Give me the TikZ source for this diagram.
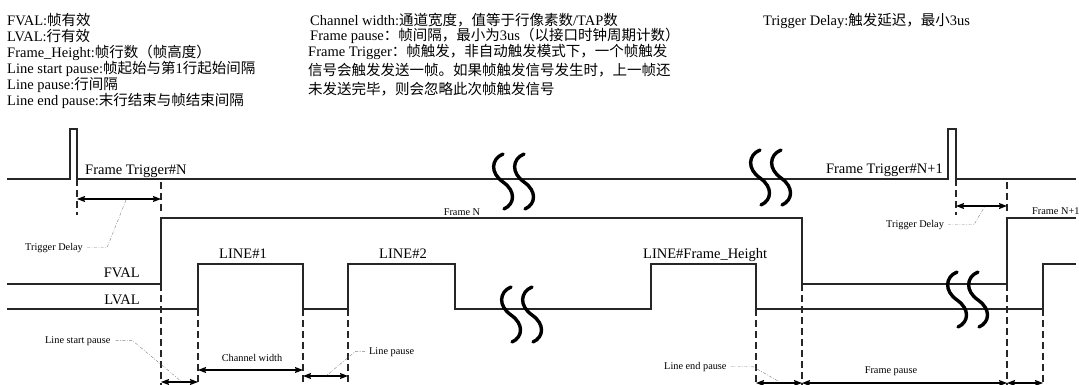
\documentclass[tikz,border=0pt]{standalone}
\usepackage{fontspec}
\setmainfont{Liberation Serif}
\newfontfamily\cjk{Noto Sans CJK SC}
\newcommand\zh[1]{{\cjk #1}}
\usetikzlibrary{arrows.meta}
\tikzset{
  sig/.style={line width=1.2pt, draw=black!85},
  dsh/.style={line width=1.2pt, draw=black!85, dash pattern=on 7pt off 4pt},
  dim/.style={line width=1.2pt, {Stealth[length=8pt,width=6pt,inset=1pt]}-{Stealth[length=8pt,width=6pt,inset=1pt]}},
  lead/.style={draw=gray, line width=0.4pt, dash pattern=on 3pt off 1.5pt on 0.8pt off 1.5pt},
  big/.style={font=\fontsize{14.5}{16}\selectfont, inner sep=0pt},
  sml/.style={font=\fontsize{10.3}{12}\selectfont, inner sep=0pt},
  sq/.style={line width=3.4pt, line cap=round},
  brk/.pic={
    \draw[sq] (0,0) .. controls (-12,5) and (-13,19) .. (0,28) .. controls (13,37) and (12,50) .. (1,55);
    \draw[sq] (21,0) .. controls (9,5) and (8,19) .. (21,28) .. controls (34,37) and (33,50) .. (22,55);
  }
}
\begin{document}
\begin{tikzpicture}[x=1pt,y=-1pt]
\path[use as bounding box] (0,0) rectangle (1079,385);
% ---------- top notes ----------
\node[big,anchor=base west] (n1) at (7,26) {FVAL:\zh{帧有效}};
\node[big,anchor=base west] (n2) at (7,42) {LVAL:\zh{行有效}};
\node[big,anchor=base west] (n3) at (7,58) {Frame\_Height:\zh{帧行数（帧高度）}};
\node[big,anchor=base west] (n4) at (7,74) {Line start pause:\zh{帧起始与第}1\zh{行起始间隔}};
\node[big,anchor=base west] (n5) at (7,90) {Line pause:\zh{行间隔}};
\node[big,anchor=base west] (n6) at (7,106) {Line end pause:\zh{末行结束与帧结束间隔}};
\node[big,anchor=base west] (m1) at (310,26) {Channel width:\zh{通道宽度，值等于行像素数}/TAP\zh{数}};
\node[big,anchor=base west] (m2) at (310,41) {Frame pause\zh{：帧间隔，最小为}3us\zh{（以接口时钟周期计数）}};
\node[big,anchor=base west] (m3) at (308,57) {Frame Trigger\zh{：帧触发，非自动触发模式下，一个帧触发}};
\node[big,anchor=base west] (m4) at (308,76) {\zh{信号会触发发送一帧。如果帧触发信号发生时，上一帧还}};
\node[big,anchor=base west] (m5) at (308,95) {\zh{未发送完毕，则会忽略此次帧触发信号}};
\node[big,anchor=base west] (r1) at (763,26) {Trigger Delay:\zh{触发延迟，最小}3us};
% ---------- signals ----------
\draw[sig] (7,179) -- (70,179) -- (70,129) -- (77,129) -- (77,179) -- (948,179) -- (948,129) -- (956,129) -- (956,179) -- (1076,179);
\draw[sig] (7,284) -- (161,284) -- (161,218) -- (802,218) -- (802,284) -- (1007,284) -- (1007,218) -- (1076,218);
\draw[sig] (7,309) -- (198,309) -- (198,264) -- (303,264) -- (303,309) -- (348,309) -- (348,264) -- (455,264) -- (455,309) -- (651,309) -- (651,264) -- (756,264) -- (756,309) -- (1043,309) -- (1043,264) -- (1076,264);
% ---------- dashed markers ----------
\draw[dsh] (77,179) -- (77,215);
\draw[dsh] (161,182) -- (161,212);
\draw[dsh] (161,284) -- (161,385);
\draw[dsh] (198,309) -- (198,385);
\draw[dsh] (303,309) -- (303,385);
\draw[dsh] (348,309) -- (348,385);
\draw[dsh] (756,309) -- (756,385);
\draw[dsh] (802,284) -- (802,385);
\draw[dsh] (956,179) -- (956,215);
\draw[dsh] (1007,182) -- (1007,212);
\draw[dsh] (1007,284) -- (1007,385);
\draw[dsh] (1043,309) -- (1043,385);
% ---------- dimension arrows ----------
\draw[dim] (77,199) -- (161,199);
\draw[dim] (956,206) -- (1007,206);
\draw[dim] (161,382) -- (198,382);
\draw[dim] (198,370) -- (303,370);
\draw[dim] (303,376) -- (348,376);
\draw[dim] (756,383) -- (802,383);
\draw[dim] (802,383) -- (1007,383);
\draw[dim] (1007,383) -- (1043,383);
% ---------- breaks ----------
\pic at (503,154) {brk};
\pic at (760,150) {brk};
\pic at (511,287) {brk};
\pic at (957,272) {brk};
% ---------- labels ----------
\node[big,anchor=base west] (ftn) at (85,175) {Frame Trigger\#N};
\node[big,anchor=base east] (ftn1) at (943,174) {Frame Trigger\#N+1};
\node[big,anchor=base east] (fval) at (140,277) {FVAL};
\node[big,anchor=base east] (lval) at (140,304) {LVAL};
\node[big,anchor=base] (l1) at (243,258) {LINE\#1};
\node[big,anchor=base] (l2) at (403,258) {LINE\#2};
\node[big,anchor=base west] (lf) at (643,258) {LINE\#Frame\_Height};
\node[sml,anchor=base] (fn) at (462,215) {Frame N};
\node[sml,anchor=base west] (fn1) at (1032,214) {Frame N+1};
\node[sml,anchor=base west] (td1) at (25,250) {Trigger Delay};
\node[sml,anchor=base west] (td2) at (886,227) {Trigger Delay};
\node[sml,anchor=base west] (lsp) at (45,343) {Line start pause};
\node[sml,anchor=base] (cw) at (252,361) {Channel width};
\node[sml,anchor=base west] (lp) at (369,354) {Line pause};
\node[sml,anchor=base west] (lep) at (664,369) {Line end pause};
\node[sml,anchor=base] (fp) at (891,373) {Frame pause};
% ---------- leaders ----------
\draw[lead] (td1.east) ++(4,0) coordinate (a1) -- ++(20,0) -- (126,200);
\draw[lead] (td2.east) ++(4,0) coordinate (a2) -- ++(26,0) -- (985,206);
\draw[lead] (lsp.east) ++(5,0) coordinate (a3) -- ++(17,0) -- (182,382);
\draw[lead] (lp.west) ++(-4,0) coordinate (a4) -- ++(-10,0) -- (326,376);
\draw[lead] (lep.east) ++(4,0) coordinate (a5) -- ++(22,0) -- (778,381);
\end{tikzpicture}
\end{document}
